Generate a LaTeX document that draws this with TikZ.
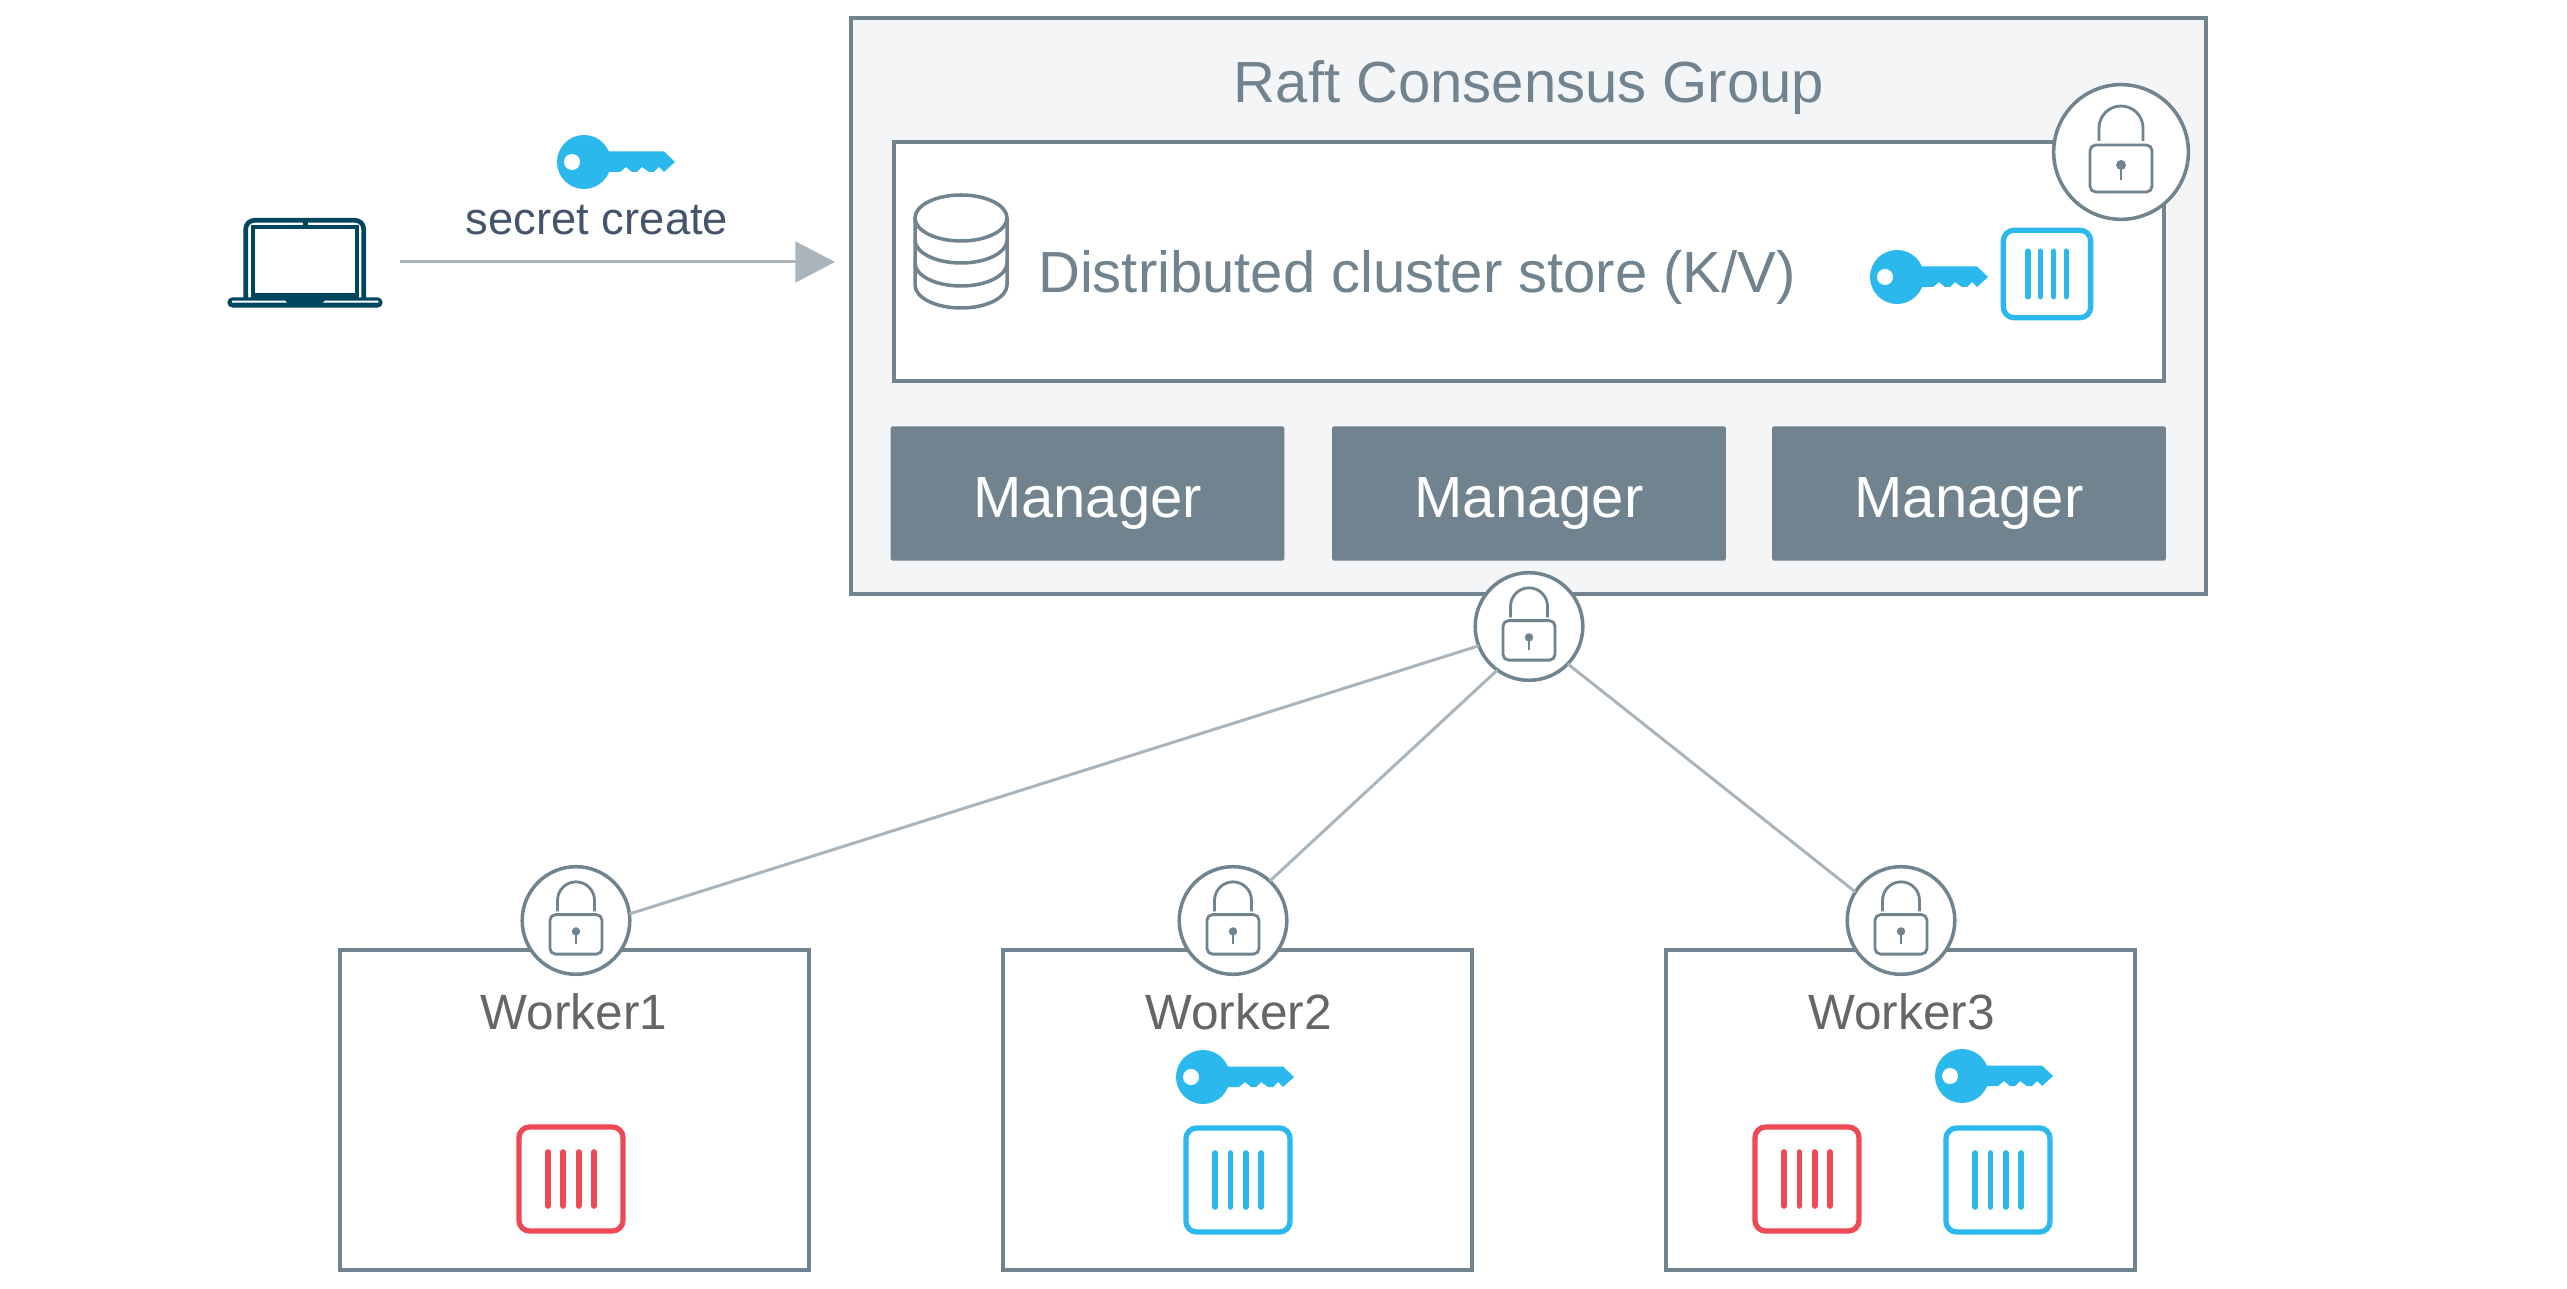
\documentclass[tikz,border=0pt]{standalone}
\usepackage{fontspec}
\setmainfont{Liberation Sans}
\usetikzlibrary{arrows.meta}
\definecolor{slategrey}{HTML}{70838F}
\definecolor{palegrey}{HTML}{F3F5F7}
\definecolor{linegrey}{HTML}{A9B4BC}
\definecolor{keyblue}{HTML}{2BB8EC}
\definecolor{crimson}{HTML}{EE4A55}
\definecolor{laptopblue}{HTML}{00465F}
\definecolor{inkblue}{HTML}{44546A}
\definecolor{workergrey}{HTML}{666666}
\tikzset{
  >=Latex,
  frame/.style={draw=slategrey, line width=1.15pt, inner sep=0pt, outer sep=0pt},
  workerbox/.style={frame, fill=white, minimum width=133.3pt, minimum height=91pt},
  managerbox/.style={fill=slategrey, rounded corners=.5pt, text=white, font=\fontsize{16.5}{20}\selectfont, minimum width=112pt, minimum height=38.2pt, inner sep=0pt, text height=13.4pt, text depth=0pt},
  lockring/.style={circle, draw=slategrey, line width=1pt, fill=white, inner sep=0pt, outer sep=0pt, minimum size=30.6pt},
  wire/.style={draw=linegrey, line width=.85pt},
  storetext/.style={text=slategrey, font=\fontsize{16.5}{20}\selectfont, inner sep=0pt},
  workertext/.style={text=workergrey, font=\fontsize{14.1}{17}\selectfont, inner sep=0pt},
  pics/padlock/.style={code={
    \draw[slategrey, line width=.8pt, rounded corners=1.6pt] (-31,-7) rectangle (31,40);
    \draw[slategrey, line width=.8pt] (-22,-11) -- (-22,-24) arc[start angle=180, end angle=360, radius=22] -- (22,-11);
    \fill[slategrey] (0,13) circle (5);
    \draw[slategrey, line width=.7pt] (0,13) -- (0,28);
  }},
  pics/secretkey/.style={code={
    \fill[keyblue] (0,0) circle (27);
    \fill[keyblue] (20,-10.5) -- (80,-10.5) -- (91,0) -- (80,10) -- (75,5) -- (70,10) -- (65,10) -- (58,5) -- (53,10) -- (48,10) -- (42,5) -- (36,10) -- (20,10) -- cycle;
    \fill[white] (-12,0) circle (8);
  }},
  pics/container/.style={code={
    \draw[#1, line width=1.5pt, rounded corners=3pt] (-52,-52) rectangle (52,52);
    \draw[#1, line width=1.6pt, line cap=round] (-23,-27) -- (-23,27);
    \draw[#1, line width=1.6pt, line cap=round] (-7.7,-27) -- (-7.7,27);
    \draw[#1, line width=1.6pt, line cap=round] (7.7,-27) -- (7.7,27);
    \draw[#1, line width=1.6pt, line cap=round] (23,-27) -- (23,27);
  }}
}
\begin{document}
\begin{tikzpicture}[x=0.01cm, y=-0.01cm]
  \useasboundingbox (0,0) rectangle (2567,1289);

  % laptop
  \draw[laptopblue, line width=1.33pt, rounded corners=2.5pt] (245.7,298) -- (245.7,220.3) -- (363.7,220.3) -- (363.7,298);
  \draw[laptopblue, line width=1.22pt] (252.8,298) -- (252.8,227.3) -- (357.2,227.3) -- (357.2,298);
  \fill[laptopblue] (302.7,222) rectangle (308.3,226);
  \fill[laptopblue] (250.7,292.7) rectangle (359.3,298);
  \fill[laptopblue, rounded corners=1.5pt] (227.3,297.3) -- (382.7,297.3) -- (382.7,307.7) -- (227.3,307.7) -- cycle;
  \fill[white] (232,300.7) -- (285,300.7) -- (287,302.7) -- (232,302.7) -- cycle;
  \fill[white] (325,300.7) -- (378.3,300.7) -- (378.3,302.7) -- (323,302.7) -- cycle;

  % key and command
  \pic at (584,162) {secretkey};
  \node[text=inkblue, font=\fontsize{12.9}{16}\selectfont, inner sep=0pt] (command) at (597,220) {secret create};

  % arrow into the group
  \coordinate (arrowstart) at (400,262);
  \coordinate (arrowend) at (835,262);
  \draw[wire, -{Triangle[length=11.3pt, width=11.6pt, fill=linegrey]}] (arrowstart) -- (arrowend);

  % raft group
  \node[frame, fill=palegrey, minimum width=385.3pt, minimum height=163.9pt] (raftgroup) at (1528.5,306) {};
  \node[storetext] (rafttitle) at (1529,88) {Raft Consensus Group};
  \node[frame, fill=white, minimum width=361.2pt, minimum height=67.8pt] (storebox) at (1529,261.5) {};

  % store symbol
  \draw[slategrey, line width=1pt, fill=white] (961,218) ellipse (46 and 23);
  \draw[slategrey, line width=1pt] (915,218) -- (915,285) arc[start angle=180, end angle=0, x radius=46, y radius=23] -- (1007,218);
  \draw[slategrey, line width=1pt] (915,240) arc[start angle=180, end angle=0, x radius=46, y radius=23];
  \draw[slategrey, line width=1pt] (915,263) arc[start angle=180, end angle=0, x radius=46, y radius=23];

  \node[storetext] (storetitle) at (1417,277) {Distributed cluster store (K/V)};
  \pic at (1897,277) {secretkey};
  \pic[scale=.84] at (2047,274) {container=keyblue};

  % managers
  \node[managerbox] (manager1) at (1087.5,493.5) {Manager};
  \node[managerbox] (manager2) at (1529,493.5) {Manager};
  \node[managerbox] (manager3) at (1969,493.5) {Manager};

  % workers
  \node[workerbox] (worker1) at (574.5,1110) {};
  \node[workerbox] (worker2) at (1237.5,1110) {};
  \node[workerbox] (worker3) at (1900.5,1110) {};
  \node[workertext] (worker1text) at (574,1012) {Worker1};
  \node[workertext] (worker2text) at (1238.5,1012) {Worker2};
  \node[workertext] (worker3text) at (1901.5,1012) {Worker3};

  % containers and keys of the workers
  \pic at (571,1179) {container=crimson};
  \pic at (1203,1077) {secretkey};
  \pic at (1238,1180) {container=keyblue};
  \pic at (1807,1179) {container=crimson};
  \pic at (1962,1076) {secretkey};
  \pic at (1998,1180) {container=keyblue};

  % locks
  \node[lockring, minimum size=38.3pt] (locktop) at (2121,152) {};
  \pic at (locktop) {padlock};
  \node[lockring] (lockgroup) at (1529,626.5) {};
  \pic[scale=.84] at (lockgroup) {padlock};
  \node[lockring] (lockworker1) at (576,920.5) {};
  \pic[scale=.84] at (lockworker1) {padlock};
  \node[lockring] (lockworker2) at (1233,920.5) {};
  \pic[scale=.84] at (lockworker2) {padlock};
  \node[lockring] (lockworker3) at (1901,920.5) {};
  \pic[scale=.84] at (lockworker3) {padlock};

  % links
  \draw[wire] (lockgroup.201) -- (lockworker1.7);
  \draw[wire] (lockgroup.234) -- (lockworker2.47);
  \draw[wire] (lockgroup.316) -- (lockworker3.148);
\end{tikzpicture}
\end{document}
